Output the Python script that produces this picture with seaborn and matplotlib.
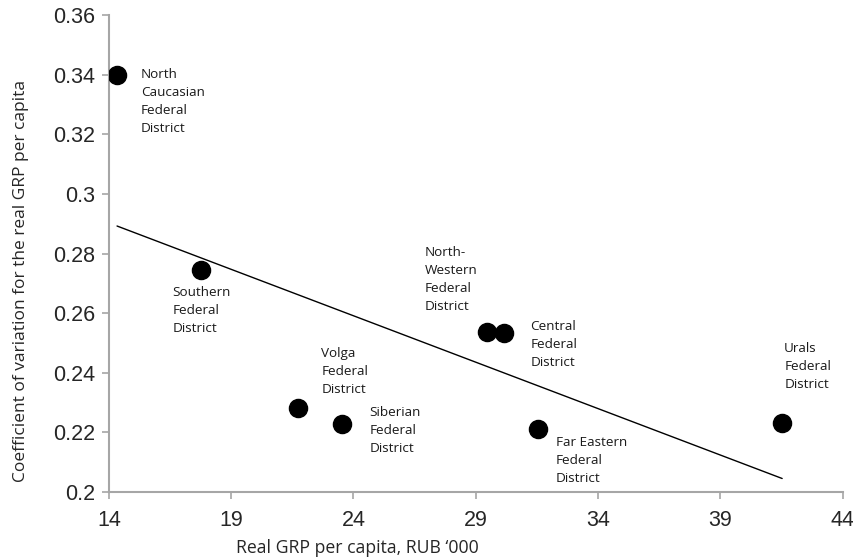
import numpy as np
import pandas as pd
import matplotlib
matplotlib.use("Agg")
import matplotlib.pyplot as plt
import seaborn as sns

# Federal districts: real GRP per capita (RUB '000) vs coefficient of variation
districts = [
    "North\nCaucasian\nFederal\nDistrict",
    "Southern\nFederal\nDistrict",
    "Volga\nFederal\nDistrict",
    "Siberian\nFederal\nDistrict",
    "North-\nWestern\nFederal\nDistrict",
    "Central\nFederal\nDistrict",
    "Far Eastern\nFederal\nDistrict",
    "Urals\nFederal\nDistrict",
]
grp_per_capita = [14.33, 17.77, 21.75, 23.55, 29.45, 30.16, 31.55, 41.53]
coef_variation = [0.340, 0.2744, 0.2281, 0.2228, 0.2537, 0.2534, 0.221, 0.2232]

# label offsets from each point, in pixels (right, down)
label_offsets = [(24, -7), (-29, 16), (23, -61), (27, -18),
                 (-62, -86), (26, -13), (18, 7), (2, -81)]

df = pd.DataFrame({"grp": grp_per_capita, "cv": coef_variation, "name": districts})

sns.set_theme(style="white")
plt.rcParams["font.family"] = ["Open Sans", "DejaVu Sans"]

fig = plt.figure(figsize=(8.54, 5.6), dpi=100)
ax = fig.add_axes([0.1276, 0.1214, 0.859, 0.8518])

sns.regplot(data=df, x="grp", y="cv", ax=ax, ci=None, truncate=True,
            scatter_kws={"s": 170, "color": "black", "edgecolor": "black",
                         "alpha": 1, "zorder": 3},
            line_kws={"color": "black", "linewidth": 1.0})

for name, x, y, (dx, dy) in zip(df["name"], df["grp"], df["cv"], label_offsets):
    ax.annotate(name, xy=(x, y), xytext=(dx, -dy), textcoords="offset pixels",
                ha="left", va="top", fontsize=9.7, linespacing=1.5, color="#1a1a1a")

ax.set_xlim(14, 44)
ax.set_ylim(0.2, 0.36)
ax.set_xticks([14, 19, 24, 29, 34, 39, 44])
ax.set_yticks([0.2, 0.22, 0.24, 0.26, 0.28, 0.3, 0.32, 0.34, 0.36])
ax.set_yticklabels(["0.2", "0.22", "0.24", "0.26", "0.28", "0.3", "0.32", "0.34", "0.36"])

for lab in ax.get_xticklabels() + ax.get_yticklabels():
    lab.set_family(["Liberation Sans", "DejaVu Sans"])
    lab.set_fontsize(15.5)

ax.set_xlabel("Real GRP per capita, RUB \u2018000", fontsize=12.7, labelpad=10)
ax.set_ylabel("Coefficient of variation for the real GRP per capita", fontsize=12.5, labelpad=17)
ax.xaxis.set_label_coords(0.338, -0.098)
ax.yaxis.label.set_y(0.442)

sns.despine(ax=ax)
for side in ["left", "bottom"]:
    ax.spines[side].set_color("#a6a6a6")
    ax.spines[side].set_linewidth(1.5)
ax.tick_params(axis="both", which="major", direction="out", length=5, width=1.2,
               color="#a6a6a6", bottom=True, left=True)
ax.tick_params(axis="x", pad=8)
ax.tick_params(axis="y", pad=5)

fig.savefig("out.png", dpi=100)
